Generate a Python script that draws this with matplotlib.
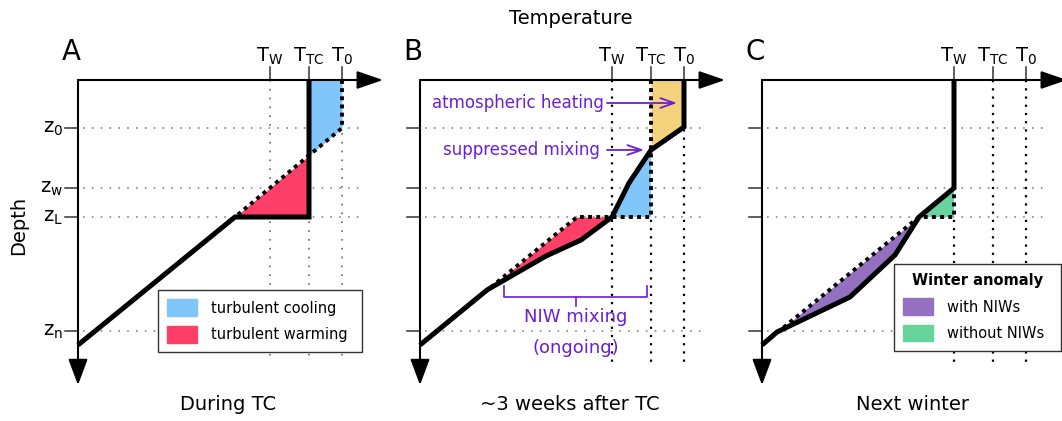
import numpy as np
import matplotlib
matplotlib.use('Agg')
import matplotlib.pyplot as plt
from matplotlib.patches import Patch

# temperature marks (arbitrary units, 0 = left axis)
t_marks = [192, 231, 264]
t_names = ['W', 'TC', '0']
# depth marks (units downward from the surface)
z_marks = [48, 108, 137, 251]
z_names = ['0', 'w', 'L', 'n']

# profiles (vertices)
t_before = [264, 264, 157, 0]
z_before = [0, 48, 137, 265]
t_during = [231, 231, 157, 0]
z_during = [0, 137, 137, 265]
t_after = [264, 264, 231, 209, 192, 161, 126, 67, 0]
z_after = [0, 47, 70, 103, 137, 160, 176, 210, 265]
t_nominal = [192, 192, 157, 0]
z_nominal = [0, 137, 137, 265]
t_winter = [192, 192, 157, 133, 88, 15, 0]
z_winter = [0, 108, 137, 175, 217, 252, 265]

panel_letters = ['A', 'B', 'C']
panel_titles = ['During TC', '~3 weeks after TC', 'Next winter']

c_blue = '#80c6fa'
c_red = '#fe4068'
c_yellow = '#f4d27c'
c_purple = '#9370c0'
c_green = '#66d49c'
c_violet = '#6a1ed6'

plt.rcParams['font.family'] = 'DejaVu Sans'
plt.rcParams['mathtext.default'] = 'regular'

fig = plt.figure(figsize=(10.62, 4.21), dpi=100)
axes = []
for i in range(3):
    ax = fig.add_axes([i * 342 / 1062, 0, 390 / 1062, 1])
    ax.set_xlim(-78, 312)
    ax.set_ylim(341, -80)
    ax.axis('off')
    axes.append(ax)


def to_frac(ax, t, z):
    return ax.transAxes.inverted().transform(ax.transData.transform((t, z)))


def frame(ax, letter, title, labels, vgrid_black):
    # grid
    for z in z_marks:
        ax.plot([5, 282], [z, z], color='#888888', lw=1.2, dashes=(1, 4.3), zorder=1)
    for t in t_marks:
        if vgrid_black:
            ax.plot([t, t], [0, 282], color='k', lw=1.6, dashes=(1, 2.7), zorder=1)
        else:
            ax.plot([t, t], [0, 282], color='#666666', lw=1.2, dashes=(1, 4.3), zorder=1)
    # axes with arrows
    ax.annotate('', xy=(305, 0), xytext=(0, 0),
                arrowprops=dict(arrowstyle='-|>,head_length=1.6,head_width=0.55',
                                lw=1.5, color='k', shrinkA=0, shrinkB=0, mutation_scale=10))
    ax.annotate('', xy=(0, 305), xytext=(0, 0),
                arrowprops=dict(arrowstyle='-|>,head_length=1.6,head_width=0.6',
                                lw=1.5, color='k', shrinkA=0, shrinkB=0, mutation_scale=10))
    ax.plot([0, 0], [0, 0], color='k')
    # ticks
    for t, n in zip(t_marks, t_names):
        ax.plot([t, t], [-13, 0], color='#333333', lw=1.1)
        ax.text(t, -18, r'T$_{%s}$' % n, fontsize=14, ha='center', va='baseline')
    for z, n in zip(z_marks, z_names):
        ax.plot([-13, 0], [z, z], color='#333333', lw=1.1)
        if labels:
            ax.text(-15, z + 5, r'z$_{%s}$' % n, fontsize=14, ha='right', va='baseline')
    ax.text(-7, -20, letter, fontsize=20, ha='center', va='baseline')
    ax.text(150, 324, title, fontsize=14, ha='center', va='center')


def profile(ax, t, z, dotted=False):
    if dotted:
        ax.plot(t, z, color='k', lw=2.8, dashes=(1, 1.1), zorder=4,
                dash_capstyle='butt', clip_on=False)
    else:
        ax.plot(t, z, color='k', lw=3.6, zorder=5, solid_joinstyle='miter',
                solid_capstyle='butt', clip_on=False)


zz = np.linspace(0, 265, 4000)


def on_grid(t, z):
    return np.interp(zz, z, t)


def legend_box(ax, handles, t0, z0, t1, z1, title=None):
    x0, y1 = to_frac(ax, t0, z0)
    x1, y0 = to_frac(ax, t1, z1)
    leg = ax.legend(handles=handles, loc='upper left',
                    bbox_to_anchor=(x0, y0, x1 - x0, y1 - y0), mode='expand',
                    borderaxespad=0, fontsize=10.5, handlelength=2.05,
                    handleheight=1.37, handletextpad=0.95, labelspacing=0.68,
                    borderpad=0.65, fancybox=False, edgecolor='#333333',
                    framealpha=1, title=title,
                    title_fontproperties={'weight': 'bold', 'size': 10.5})
    leg.get_frame().set_linewidth(1.0)
    leg.set_zorder(10)


# ---- A: during TC
ax = axes[0]
frame(ax, panel_letters[0], panel_titles[0], True, False)
a0 = on_grid(t_before, z_before)
a1 = on_grid(t_during, z_during)
ax.fill_betweenx(zz, a1, a0, where=a0 > a1 + 0.01, interpolate=True, color=c_blue, lw=0, zorder=2)
ax.fill_betweenx(zz, a1, a0, where=a0 < a1 - 0.01, interpolate=True, color=c_red, lw=0, zorder=2)
profile(ax, t_before, z_before, dotted=True)
profile(ax, t_during, z_during)
legend_box(ax, [Patch(color=c_blue, label='turbulent cooling'),
                Patch(color=c_red, label='turbulent warming')], 80, 210, 284, 281)
ax.text(-59, 145, 'Depth', fontsize=14, rotation=90, ha='center', va='center')

# ---- B: ~3 weeks after
ax = axes[1]
frame(ax, panel_letters[1], panel_titles[1], False, True)
b1 = on_grid(t_after, z_after)
ax.fill_betweenx(zz, a1, b1, where=(b1 > a1 + 0.01) & (zz < 100), interpolate=True,
                 color=c_yellow, lw=0, zorder=2)
ax.fill_betweenx(zz, a1, b1, where=(b1 < a1 - 0.01), interpolate=True, color=c_blue, lw=0, zorder=2)
ax.fill_betweenx(zz, a1, b1, where=(b1 > a1 + 0.01) & (zz > 100), interpolate=True,
                 color=c_red, lw=0, zorder=2)
profile(ax, t_during, z_during, dotted=True)
profile(ax, t_after, z_after)
ax.text(184, 23, 'atmospheric heating', fontsize=12, color=c_violet, ha='right', va='center')
ax.text(180, 70, 'suppressed mixing', fontsize=12, color=c_violet, ha='right', va='center')
for y, t_start, t_end in [(23, 187, 257), (70, 187, 224)]:
    ax.annotate('', xy=(t_end, y), xytext=(t_start, y), zorder=6,
                arrowprops=dict(arrowstyle='->,head_length=1.0,head_width=0.35', lw=1.3,
                                color=c_violet, shrinkA=0, shrinkB=0, mutation_scale=10))
ax.plot([84, 84, 227, 227], [206, 217, 217, 206], color=c_violet, lw=1.2)
ax.plot([156, 156], [217, 226], color=c_violet, lw=1.2)
ax.text(156, 237, 'NIW mixing', fontsize=13, color=c_violet, ha='center', va='center')
ax.text(156, 268, '(ongoing)', fontsize=13, color=c_violet, ha='center', va='center')
ax.text(151, -62, 'Temperature', fontsize=14, ha='center', va='center')

# ---- C: next winter
ax = axes[2]
frame(ax, panel_letters[2], panel_titles[2], False, True)
c0 = on_grid(t_nominal, z_nominal)
c1 = on_grid(t_winter, z_winter)
ax.fill_betweenx(zz, c0, c1, where=c1 > c0 + 0.01, interpolate=True, color=c_purple, lw=0, zorder=2)
ax.fill_betweenx(zz, c0, c1, where=c1 < c0 - 0.01, interpolate=True, color=c_green, lw=0, zorder=2)
profile(ax, t_nominal, z_nominal, dotted=True)
profile(ax, t_winter, z_winter)
legend_box(ax, [Patch(color=c_purple, label='with NIWs'),
                Patch(color=c_green, label='without NIWs')], 132, 184, 299, 278,
           title='Winter anomaly')

fig.savefig('out.png', dpi=100)
